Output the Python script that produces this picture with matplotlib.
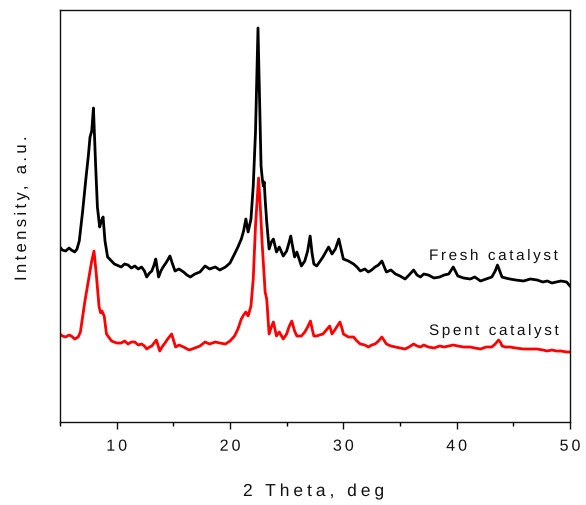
import numpy as np
import matplotlib
matplotlib.use("Agg")
import matplotlib.pyplot as plt
from matplotlib.patheffects import AbstractPathEffect
from matplotlib.path import Path
from matplotlib.ticker import MultipleLocator

plt.rcParams['font.family'] = ['Liberation Sans', 'DejaVu Sans']

# ---------------- data ----------------
fresh_x = [5.0, 5.2, 5.5, 5.8, 6.0, 6.3, 6.5, 6.7, 7.0, 7.3, 7.5, 7.65, 7.8, 7.95,
           8.15, 8.3, 8.5, 8.65, 8.8, 8.97, 9.2, 9.55, 9.8, 10.0, 10.4, 10.7, 11.0,
           11.3, 11.6, 11.9, 12.2, 12.45, 12.65, 12.9, 13.1, 13.3, 13.45, 13.7, 13.9,
           14.1, 14.4, 14.7, 14.9, 15.15, 15.5, 15.9, 16.2, 16.5, 16.9, 17.35, 17.8,
           18.2, 18.7, 19.1, 19.6, 20.0, 20.4, 20.7, 21.0, 21.2, 21.4, 21.6, 21.85,
           22.05, 22.25, 22.47, 22.62, 22.74, 22.85, 22.94, 23.02, 23.1, 23.24, 23.45,
           23.65, 23.83, 24.1, 24.35, 24.7, 25.0, 25.2, 25.36, 25.5, 25.7, 25.9, 26.3,
           26.6, 26.85, 27.07, 27.25, 27.4, 27.65, 27.9, 28.2, 28.5, 28.7, 29.0, 29.3,
           29.6, 29.8, 30.0, 30.45, 30.9, 31.2, 31.5, 31.9, 32.2, 32.5, 32.8, 33.1,
           33.4, 33.8, 34.2, 34.6, 35.0, 35.45, 35.8, 36.2, 36.5, 36.8, 37.1, 37.5,
           38.0, 38.5, 38.9, 39.3, 39.7, 40.1, 40.6, 41.2, 41.6, 42.1, 42.6, 43.1,
           43.4, 43.6, 43.8, 44.0, 44.3, 44.7, 45.2, 45.9, 46.5, 47.1, 47.6, 48.0,
           48.4, 48.8, 49.2, 49.7, 50.0]
fresh_px = [248, 251, 252, 249, 251, 253, 250, 242, 212, 178, 157, 138, 132, 109,
            168, 208, 228, 222, 218, 242, 258, 262, 265, 266, 268, 265, 266,
            269, 267, 270, 268, 272, 278, 274, 272, 266, 260, 278, 272,
            268, 263, 257, 264, 272, 270, 273, 276, 278, 275, 273, 267,
            270, 268, 271, 268, 264, 255, 248, 240, 232, 220, 233, 220,
            187, 133, 29, 103, 167, 180, 187, 183, 200, 223, 250,
            243, 240, 253, 248, 257, 252, 244, 237, 246, 258, 253, 267,
            262, 252, 237, 255, 265, 267, 263, 258, 252, 248, 255, 250,
            240, 250, 260, 262, 265, 268, 272, 270, 273, 271, 268, 266,
            262, 273, 271, 275, 277, 280, 276, 271, 276, 278, 275, 276,
            279, 278, 276, 275, 268, 277, 279, 280, 278, 282, 280, 278,
            272, 266, 272, 278, 279, 280, 281, 282, 280, 281, 283, 282,
            284, 283, 282, 283, 287]

spent_x = [5.0, 5.2, 5.5, 5.8, 6.0, 6.3, 6.6, 6.8, 7.2, 7.5, 7.8, 8.0, 8.2, 8.45,
           8.6, 8.7, 8.9, 9.1, 9.55, 10.0, 10.4, 10.7, 11.0, 11.3, 11.6, 11.9, 12.2,
           12.45, 12.65, 12.9, 13.1, 13.3, 13.5, 13.8, 14.0, 14.2, 14.5, 14.85, 15.2,
           15.5, 15.9, 16.4, 16.9, 17.35, 17.8, 18.2, 18.7, 19.1, 19.6, 20.0, 20.4,
           20.7, 21.0, 21.2, 21.4, 21.6, 21.85, 22.05, 22.25, 22.52, 22.67, 22.85,
           23.1, 23.24, 23.45, 23.65, 23.83, 24.1, 24.35, 24.7, 25.0, 25.2, 25.45,
           25.7, 25.9, 26.3, 26.6, 26.85, 27.1, 27.25, 27.4, 27.65, 27.9, 28.2, 28.5,
           28.8, 29.0, 29.3, 29.7, 29.9, 30.0, 30.45, 30.9, 31.2, 31.5, 31.9, 32.2,
           32.5, 32.8, 33.1, 33.4, 33.8, 34.2, 34.6, 35.0, 35.45, 35.8, 36.2, 36.5,
           36.8, 37.1, 37.5, 38.0, 38.5, 38.9, 39.3, 39.7, 40.1, 40.6, 41.2, 41.6,
           42.1, 42.6, 43.1, 43.4, 43.7, 43.9, 44.0, 44.3, 44.7, 45.2, 45.9, 46.5,
           47.1, 47.6, 48.0, 48.4, 48.8, 49.2, 49.7, 50.0]
spent_px = [335, 337, 338, 336, 337, 340, 338, 333, 302, 282, 262, 252, 275, 308,
            314, 312, 317, 335, 342, 344, 344, 342, 345, 343, 343, 346, 345,
            347, 350, 348, 347, 344, 341, 352, 348, 345, 340, 335, 348,
            346, 348, 351, 349, 347, 343, 345, 343, 344, 345, 342, 337,
            330, 320, 316, 313, 317, 307, 280, 227, 179, 207, 247,
            293, 300, 335, 328, 323, 337, 333, 340, 335, 328, 322,
            332, 337, 337, 333, 328, 322, 330, 337, 337, 336, 335, 331,
            327, 335, 330, 323, 330, 335, 338, 338, 342, 345, 346, 348,
            346, 345, 342, 338, 345, 347, 348, 349, 350, 348, 345, 347,
            348, 346, 348, 349, 347, 348, 347, 346, 347, 348, 348, 349,
            350, 348, 348, 345, 341, 344, 347, 348, 348, 349, 350, 350,
            350, 351, 352, 351, 352, 352, 353, 353]

# intensity in arbitrary units (higher = up)
fresh_y = [423 - v for v in fresh_px]
spent_y = [423 - v for v in spent_px]

x_ticks = [10, 20, 30, 40, 50]
tick_labels = ["10", "20", "30", "40", "50"]
labels = ["Fresh catalyst", "Spent catalyst"]


# --------- letter-spacing path effect (text stays a single string) ---------
class Tracking(AbstractPathEffect):
    def __init__(self, em=0.2, align=0.0):
        super().__init__()
        self.em = em
        self.align = align

    def draw_path(self, renderer, gc, tpath, affine, rgbFace=None):
        verts = np.array(tpath.vertices, dtype=float)
        codes = tpath.codes
        if codes is None or len(verts) == 0:
            renderer.draw_path(gc, tpath, affine, rgbFace)
            return
        starts = list(np.where(codes == Path.MOVETO)[0]) + [len(verts)]
        contours = []
        for a, b in zip(starts[:-1], starts[1:]):
            m = codes[a:b] != Path.CLOSEPOLY
            xs = verts[a:b][m, 0]
            if len(xs) == 0:
                xs = np.array([verts[a, 0]])
            contours.append((xs.min(), xs.max(), a, b))
        order = sorted(range(len(contours)), key=lambda i: contours[i][0])
        idx = 0
        cur_max = None
        shift = np.zeros(len(contours))
        for i in order:
            x0, x1, a, b = contours[i]
            if cur_max is None:
                cur_max = x1
            elif x0 < cur_max - 1:
                cur_max = max(cur_max, x1)
            else:
                idx += 1
                if x0 - cur_max > 28:
                    idx += 1
                cur_max = x1
            shift[i] = idx
        total = idx
        for i, (x0, x1, a, b) in enumerate(contours):
            verts[a:b, 0] += (shift[i] - self.align * total) * self.em * 100.0
        renderer.draw_path(gc, Path(verts, codes), affine, rgbFace)


W, H = 586, 506
fig = plt.figure(figsize=(W / 100, H / 100), dpi=100)
ax = fig.add_axes([60 / W, (H - 423) / H, 510 / W, 412 / H])

ax.plot(fresh_x, fresh_y, color='black', lw=2.0, solid_joinstyle='round')
ax.plot(spent_x, spent_y, color='#ff0000', lw=2.0, solid_joinstyle='round')

ax.set_xlim(5, 50)
ax.set_ylim(0, 412)
ax.set_yticks([])
ax.xaxis.set_major_locator(MultipleLocator(10))
ax.xaxis.set_minor_locator(MultipleLocator(5))
ax.set_xticks(x_ticks)
ax.set_xticklabels(tick_labels)
ax.tick_params(axis='x', which='major', direction='out', length=5, width=1.0,
               pad=7, labelsize=11.5, colors='#111111')
ax.tick_params(axis='x', which='minor', direction='out', length=3, width=1.0)
for sp in ax.spines.values():
    sp.set_linewidth(1.0)
    sp.set_color('#111111')
for t in ax.get_xticklabels():
    t.set_path_effects([Tracking(0.19, align=0.5)])

x_lab = 5 + (429 - 60) / (510 / 45)
ax.text(x_lab, 423 - 261, labels[0], ha='left', va='baseline', fontsize=11,
        color='#111111', path_effects=[Tracking(0.17)])
ax.text(x_lab, 423 - 336, labels[1], ha='left', va='baseline', fontsize=11,
        color='#111111', path_effects=[Tracking(0.17)])

fig.text(243 / W, 1 - 497 / H, "2 Theta, deg", ha='left', va='baseline',
         fontsize=12.5, color='#111111', path_effects=[Tracking(0.23)])
fig.text(21.5 / W, 1 - 282 / H, "Intensity, a.u.", rotation=90, ha='center',
         va='bottom', fontsize=12, color='#111111', path_effects=[Tracking(0.2)])

fig.savefig("out.png", dpi=100)
